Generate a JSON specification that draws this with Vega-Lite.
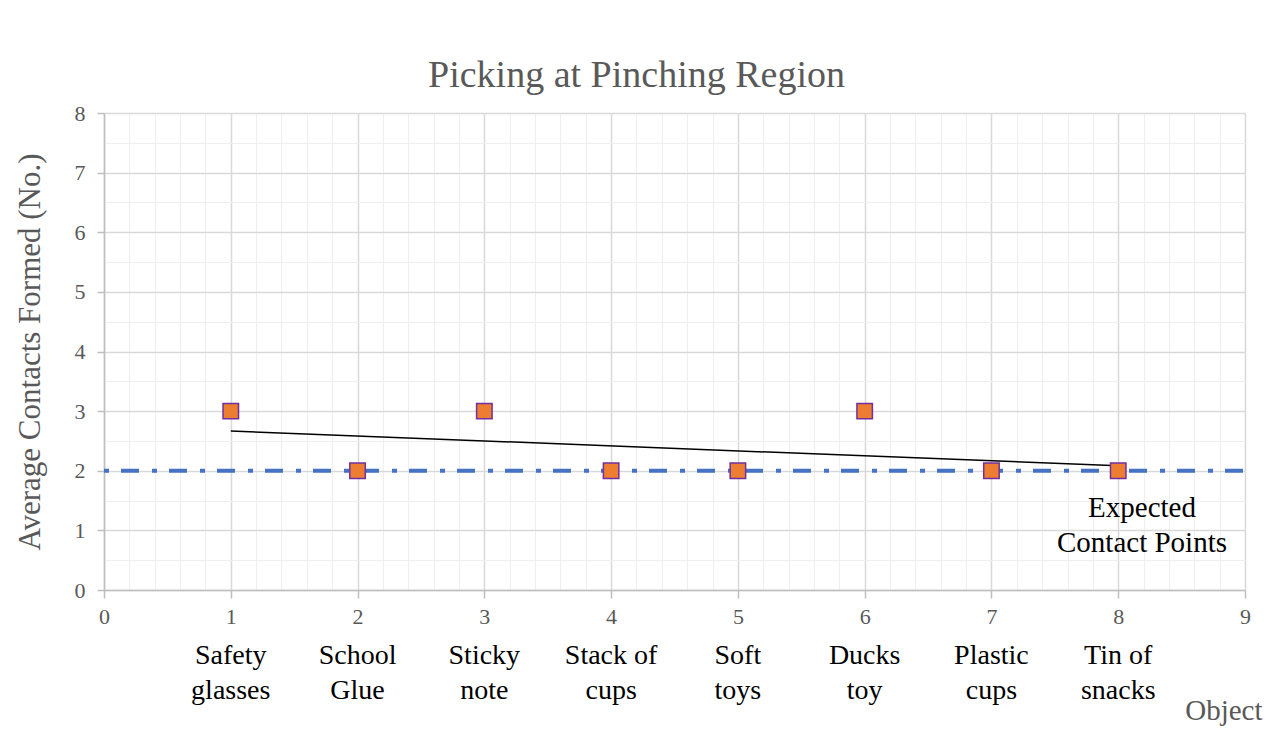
{
  "$schema": "https://vega.github.io/schema/vega-lite/v6.json",
  "autosize": {"type": "none"},
  "width": 1141,
  "height": 477,
  "padding": {"left": 104, "top": 113, "right": 25, "bottom": 160},
  "background": "white",
  "config": {
    "font": "Times New Roman, Liberation Serif, serif",
    "view": {"stroke": null}
  },
  "title": {
    "text": "Picking at Pinching Region",
    "font": "Times New Roman, Liberation Serif, serif",
    "fontSize": 38,
    "fontWeight": "normal",
    "color": "#595959",
    "anchor": "middle",
    "dx": -38,
    "offset": 7
  },
  "datasets": {
    "objects": [
      {"x": 1, "object": "Safety\nglasses", "contacts": 3},
      {"x": 2, "object": "School\nGlue", "contacts": 2},
      {"x": 3, "object": "Sticky\nnote", "contacts": 3},
      {"x": 4, "object": "Stack of\ncups", "contacts": 2},
      {"x": 5, "object": "Soft\ntoys", "contacts": 2},
      {"x": 6, "object": "Ducks\ntoy", "contacts": 3},
      {"x": 7, "object": "Plastic\ncups", "contacts": 2},
      {"x": 8, "object": "Tin of\nsnacks", "contacts": 2}
    ],
    "expected": [
      {"x": 0, "expected": 2, "label": "Expected\nContact Points"},
      {"x": 9, "expected": 2, "label": "Expected\nContact Points"}
    ]
  },
  "resolve": {"axis": {"x": "independent", "y": "independent"}},
  "layer": [
    {
      "data": {"name": "expected"},
      "mark": {"type": "line", "color": "#4472C4", "strokeWidth": 4, "strokeDash": [5, 12, 18, 13], "strokeCap": "butt"},
      "encoding": {
        "x": {"field": "x", "type": "quantitative", "scale": {"domain": [0, 9], "nice": false},
          "axis": {"orient": "bottom", "grid": true, "gridColor": "#efefef", "gridWidth": 1.2, "tickCount": 45, "labels": false, "ticks": false, "domain": false, "title": null}},
        "y": {"field": "expected", "type": "quantitative", "scale": {"domain": [0, 8], "nice": false},
          "axis": {"orient": "left", "grid": true, "gridColor": "#efefef", "gridWidth": 1.2, "tickCount": 16, "labels": false, "ticks": false, "domain": false, "title": null}}
      }
    },
    {
      "data": {"name": "objects"},
      "transform": [{"regression": "contacts", "on": "x"}],
      "mark": {"type": "line", "color": "#000000", "strokeWidth": 1.5},
      "encoding": {
        "x": {"field": "x", "type": "quantitative", "axis": null},
        "y": {"field": "contacts", "type": "quantitative", "axis": null}
      }
    },
    {
      "data": {"name": "objects"},
      "mark": {"type": "point", "shape": "square", "filled": true, "fill": "#ED7D31", "stroke": "#7030A0", "strokeWidth": 1.5, "size": 240, "opacity": 1},
      "encoding": {
        "x": {"field": "x", "type": "quantitative",
          "axis": {"orient": "bottom", "values": [0,1,2,3,4,5,6,7,8,9], "grid": true, "gridColor": "#d9d9d9", "gridWidth": 1.5,
            "domainColor": "#bfbfbf", "domainWidth": 1.5, "tickColor": "#bfbfbf", "tickWidth": 1.5, "tickSize": 8,
            "labelFont": "Times New Roman, Liberation Serif, serif", "labelColor": "#595959", "labelFontSize": 22, "labelPadding": 8, "labelFlush": false,
            "title": "Object", "titleFont": "Times New Roman, Liberation Serif, serif", "titleColor": "#595959", "titleFontWeight": "normal", "titleFontSize": 29,
            "titleAnchor": "end", "titleAlign": "right", "titleBaseline": "middle", "titleX": 1158, "titleY": 120}},
        "y": {"field": "contacts", "type": "quantitative",
          "axis": {"orient": "left", "values": [0,1,2,3,4,5,6,7,8], "grid": true, "gridColor": "#d9d9d9", "gridWidth": 1.5,
            "domainColor": "#bfbfbf", "domainWidth": 1.5, "tickColor": "#bfbfbf", "tickWidth": 1.5, "tickSize": 7,
            "labelFont": "Times New Roman, Liberation Serif, serif", "labelColor": "#595959", "labelFontSize": 22, "labelPadding": 12, "labelFlush": false,
            "title": "Average Contacts Formed (No.)", "titleFont": "Times New Roman, Liberation Serif, serif", "titleColor": "#595959", "titleFontWeight": "normal",
            "titleFontSize": 31, "titleX": -74, "titleBaseline": "middle"}}
      }
    },
    {
      "data": {"name": "objects"},
      "mark": {"type": "text", "font": "Times New Roman, Liberation Serif, serif", "fontSize": 28, "color": "#000000", "lineBreak": "\n", "lineHeight": 35, "baseline": "middle", "align": "center", "dy": 66},
      "encoding": {
        "x": {"field": "x", "type": "quantitative", "axis": null},
        "y": {"datum": 0, "type": "quantitative", "axis": null},
        "text": {"field": "object", "type": "nominal"}
      }
    },
    {
      "data": {"name": "expected"},
      "transform": [{"filter": "datum.x == 9"}],
      "mark": {"type": "text", "font": "Times New Roman, Liberation Serif, serif", "fontSize": 29, "color": "#000000", "lineBreak": "\n", "lineHeight": 35, "baseline": "middle", "align": "center", "dx": -103, "dy": 37},
      "encoding": {
        "x": {"field": "x", "type": "quantitative", "axis": null},
        "y": {"field": "expected", "type": "quantitative", "axis": null},
        "text": {"field": "label", "type": "nominal"}
      }
    }
  ]
}
